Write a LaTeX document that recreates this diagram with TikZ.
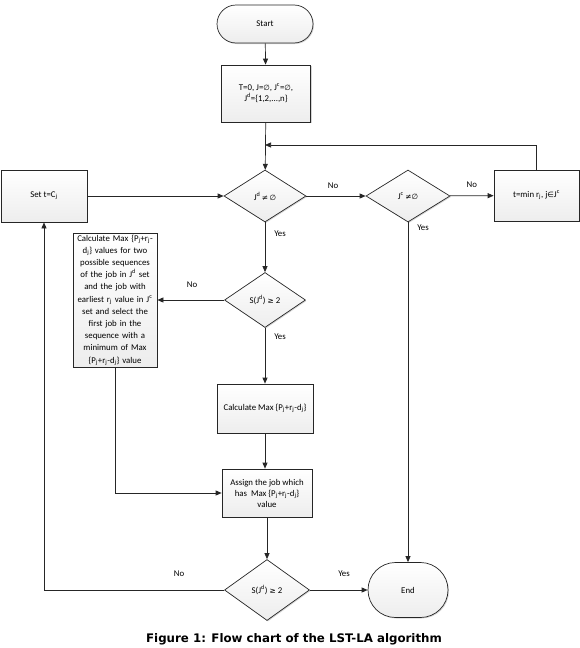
\documentclass[tikz,border=0pt]{standalone}
\usepackage{fontspec}
\setmainfont{Carlito}
\newfontfamily\symf{DejaVu Sans}
\newfontfamily\capf{DejaVu Sans}
\usetikzlibrary{shapes.geometric,shapes.misc,arrows.meta,shadows}
\newcommand{\sy}[1]{{\symf\scalebox{0.85}{#1}}}
\newcommand{\sub}[1]{\textsubscript{#1}}
\newcommand{\sups}[1]{\textsuperscript{#1}}
\tikzset{
  base/.style={draw=black!85, line width=0.7pt, top color=white, bottom color=gray!14,
    drop shadow={shadow xshift=1pt, shadow yshift=-1pt, fill=gray!55, opacity=0.6},
    font=\fontsize{8.8}{11}\selectfont, align=center, inner sep=1pt},
  procbox/.style={base, rectangle},
  term/.style={base, rounded rectangle},
  decis/.style={base, diamond, inner sep=0pt},
  conn/.style={draw=black!85, line width=0.7pt, -{Triangle[length=6pt,width=5pt]}},
  plain/.style={draw=black!85, line width=0.7pt},
  lbl/.style={font=\fontsize{8.8}{10}\selectfont, inner sep=0pt}
}
\begin{document}
\begin{tikzpicture}[x=1pt,y=-1pt]
\useasboundingbox (0,0) rectangle (580,648);
% nodes
\node[term, minimum width=98pt, minimum height=38pt] (start) at (265,24) {Start};
\node[procbox, minimum width=89pt, minimum height=57pt] (init) at (266,93.5)
  {T=0, J=\sy{∅}, J\sups{c}=\sy{∅},\\ J\sups{d}=\{1,2,...,n\}};
\node[decis, minimum width=82pt, minimum height=52pt] (d1) at (265,196) {J\sups{d}\,\sy{≠}\,\sy{∅}};
\node[decis, minimum width=84pt, minimum height=52pt] (d2) at (408,196) {J\sups{c}\,\sy{≠}\sy{∅}};
\node[procbox, minimum width=85pt, minimum height=51pt] (rbox) at (536.5,195.5)
  {t=min r\sub{j}, j\sy{∈}J\sups{c}};
\node[procbox, minimum width=86pt, minimum height=52pt] (set) at (44,196) {Set t=C\sub{j}};
\node[decis, minimum width=81pt, minimum height=55pt] (d3) at (265,300) {S(J\sups{d}) \sy{≥} 2};
\node[procbox, text width=82pt, inner sep=1pt, minimum height=134pt, font=\fontsize{8.8}{12.2}\selectfont] (big) at (115,300)
  {Calculate Max \{P\sub{j}+r\sub{j}-\\ d\sub{j}\} values for two\\ possible sequences\\ of the job in J\sups{d} set\\ and the job with\\ earliest r\sub{j} value in J\sups{c}\\ set and select the\\ first job in the\\ sequence with a\\ minimum of Max\\ \{P\sub{j}+r\sub{j}-d\sub{j}\} value};
\node[procbox, minimum width=96pt, minimum height=49pt] (calc) at (265,408.5)
  {Calculate Max \{P\sub{j}+r\sub{j}-d\sub{j}\}};
\node[procbox, minimum width=90pt, minimum height=48pt] (assign) at (267,493)
  {Assign the job which\\ has\ \ Max \{P\sub{j}+r\sub{j}-d\sub{j}\}\\ value};
\node[decis, minimum width=85pt, minimum height=61pt] (d4) at (267,590) {S(J\sups{d}) \sy{≥} 2};
\node[term, minimum width=82pt, minimum height=55pt] (end) at (408,590) {End};
\coordinate (fb) at (265,145);
\coordinate (lft) at (44,590);
% connectors
\draw[conn] (start) -- (init);
\draw[conn] (init) -- (d1);
\draw[conn] (rbox.north) |- (fb);
\draw[conn] (set) -- (d1);
\draw[conn] (d1) -- node[lbl, above=7pt, pos=0.45] {No} (d2);
\draw[conn] (d2) -- node[lbl, above=8pt, pos=0.5] {No} (rbox);
\draw[conn] (d2.south) -- (end.north);
\draw[conn] (d1) -- (d3);
\draw[conn] (d3) -- (big);
\draw[conn] (d3) -- (calc);
\draw[conn] (calc) -- (assign.north -| calc);
\draw[conn] (big.south) |- (assign.west);
\draw[conn] (assign.south -| d4) -- (d4);
\draw[conn] (d4) -- (end);
\draw[plain] (d4.west) -- (lft);
\draw[conn] (lft) -- (set.south);
% labels
\node[lbl] at (423,228) {Yes};
\node[lbl] at (280,234) {Yes};
\node[lbl] at (192,285) {No};
\node[lbl] at (280,337) {Yes};
\node[lbl] at (179,574) {No};
\node[lbl] at (344,574) {Yes};
\node[font=\capf\bfseries\fontsize{11.8}{14}\selectfont, inner sep=0pt] (cap) at (294,639)
  {Figure 1: Flow chart of the LST-LA algorithm};
\end{tikzpicture}
\end{document}
